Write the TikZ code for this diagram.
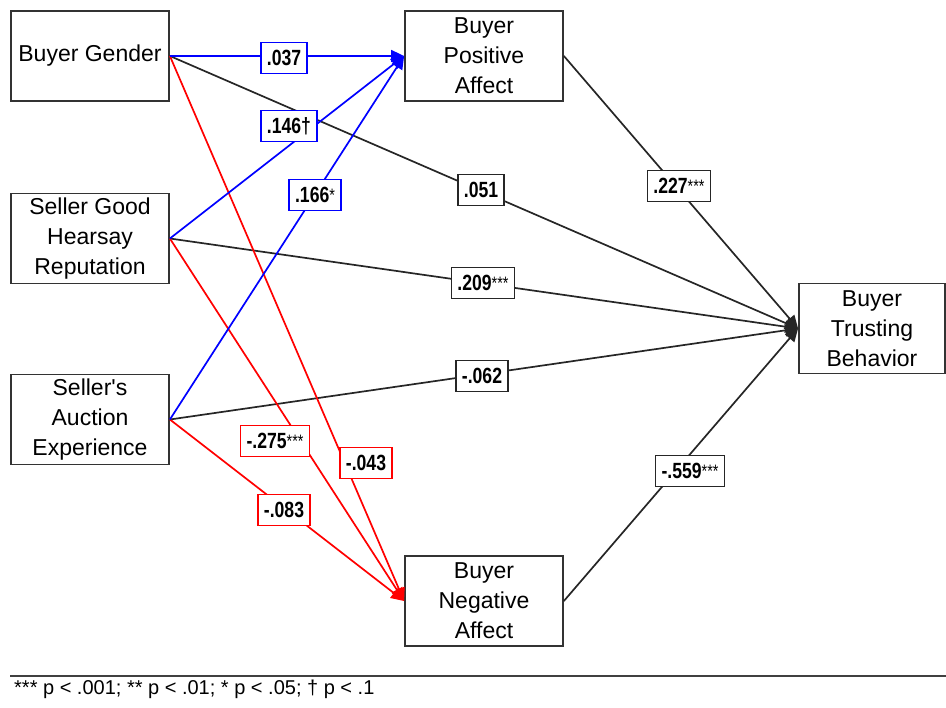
\documentclass[tikz,border=0pt]{standalone}
\usepackage{fontspec}
\setmainfont{Liberation Sans}[Ligatures=TeXOff]
\newfontfamily\lblfont[FakeStretch=0.8]{Liberation Sans}
\usetikzlibrary{arrows.meta}
\newcommand{\stars}[1]{\raisebox{1pt}{\fontsize{18}{18}\selectfont\mdseries #1}}
\begin{document}
\begin{tikzpicture}[x=1pt,y=-1pt,
  varbox/.style={draw=black!80, line width=1.8pt, fill=white, align=center,
    minimum width=158pt, minimum height=90pt, inner sep=0pt,
    font=\fontsize{23}{30}\selectfont},
  edge/.style={line width=1.7pt, -{Triangle[length=13pt,width=12pt]}},
  bedge/.style={edge, draw=blue, fill=blue},
  redge/.style={edge, draw=red, fill=red},
  kedge/.style={edge, draw=black!85, fill=black},
  lbl/.style={draw, line width=1.5pt, fill=white, inner xsep=6pt, inner ysep=0pt,
    minimum height=31pt, font=\lblfont\bfseries\fontsize{22}{22}\selectfont},
  blbl/.style={lbl, draw=blue},
  rlbl/.style={lbl, draw=red},
  klbl/.style={lbl, draw=black!85}]
\useasboundingbox (0,0) rectangle (946,708);

% variables
\node[varbox] (bg)   at (90,56)    {Buyer Gender};
\node[varbox] (sghr) at (90,238.5) {Seller Good\\Hearsay\\Reputation};
\node[varbox] (sae)  at (90,419.5) {Seller's\\Auction\\Experience};
\node[varbox] (bpa)  at (484,56)   {Buyer\\Positive\\Affect};
\node[varbox] (bna)  at (484,601)  {Buyer\\Negative\\Affect};
\node[varbox, minimum width=146pt] (btb) at (872,328.5) {Buyer\\Trusting\\Behavior};

% paths to trusting behavior
\draw[kedge] (bg.east)   -- (btb.west);
\draw[kedge] (sghr.east) -- (btb.west);
\draw[kedge] (sae.east)  -- (btb.west);
\draw[kedge] (bpa.east)  -- (btb.west);
\draw[kedge] (bna.east)  -- (btb.west);

% paths to negative affect
\draw[redge] (bg.east)   -- (bna.west);
\draw[redge] (sghr.east) -- (bna.west);
\draw[redge] (sae.east)  -- (bna.west);

% paths to positive affect
\draw[bedge] (bg.east)   -- (bpa.west);
\draw[bedge] (sghr.east) -- (bpa.west);
\draw[bedge] (sae.east)  -- (bpa.west);

% coefficients
\node[blbl] (c1)  at (284,58)  {.037};
\node[blbl] (c2)  at (289,126) {.146\textdagger};
\node[blbl] (c3)  at (315,195) {.166\stars{*}};
\node[klbl] (c4)  at (481,190) {.051};
\node[klbl] (c5)  at (483,283) {.209\stars{***}};
\node[klbl] (c6)  at (482,376) {-.062};
\node[rlbl] (c7)  at (275,441) {-.275\stars{***}};
\node[rlbl] (c8)  at (366,463) {-.043};
\node[rlbl] (c9)  at (284,510) {-.083};
\node[klbl] (c10) at (679,186) {.227\stars{***}};
\node[klbl] (c11) at (690,471) {-.559\stars{***}};

% note
\coordinate (rl) at (10,676);
\coordinate (rr) at (946,676);
\draw[line width=2pt, black!75] (rl) -- (rr);
\node[anchor=west, inner sep=0pt, font=\fontsize{20}{20}\selectfont] (note) at (14,689)
  {*** p < .001; ** p < .01; * p < .05; \textdagger{} p < .1};
\end{tikzpicture}
\end{document}
